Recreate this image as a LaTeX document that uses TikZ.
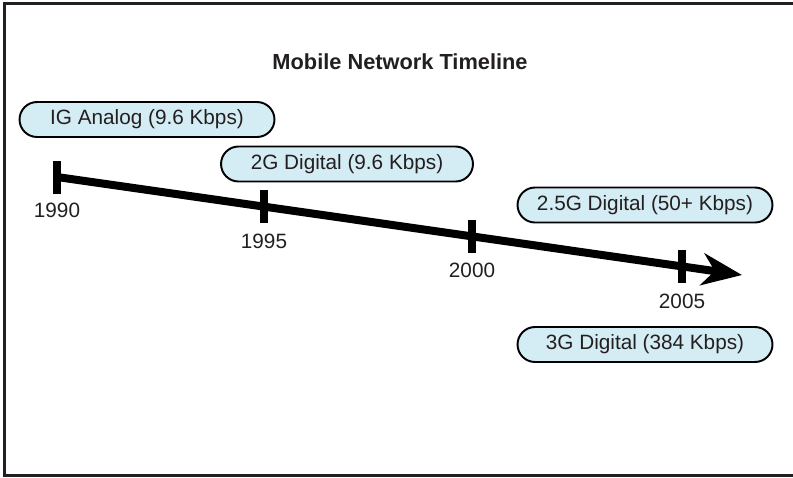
\documentclass[tikz,border=0pt]{standalone}
\usepackage{fontspec}
\setmainfont{Liberation Sans}
\usepackage{tikz}
\usetikzlibrary{arrows.meta,positioning}
\definecolor{pillblue}{RGB}{212,236,243}
\definecolor{inkgray}{RGB}{35,31,32}
\tikzset{pill/.style={draw=black, line width=1.1pt, fill=pillblue,
           rounded corners=0.35cm, minimum width=5.1cm, minimum height=0.7cm,
           inner sep=0pt, text=inkgray, font=\fontsize{11.8pt}{13pt}\selectfont},
         tickmark/.style={fill=black, inner sep=0pt, minimum width=0.16cm,
           minimum height=0.66cm},
         yearlabel/.style={inner sep=0pt, text=inkgray,
           font=\fontsize{11.8pt}{13pt}\selectfont}}

\begin{document}
\begin{tikzpicture}[x=0.02cm, y=-0.02cm]
  \useasboundingbox (0,0) rectangle (793,477);
  % frame, open on the right
  \draw[line width=0.05cm, draw=inkgray] (793,3.5) -- (4.5,3.5) -- (4.5,475.5) -- (793,475.5);

  \node[anchor=base, text=inkgray, font=\fontsize{12.4pt}{14pt}\selectfont\bfseries]
    (title) at (400,69) {Mobile Network Timeline};

  \node[pill] (g1)  at (147,119.5) {IG Analog (9.6 Kbps)};
  \node[pill, minimum width=5.04cm] (g2)  at (347,164) {2G Digital (9.6 Kbps)};
  \node[pill] (g25) at (645,205) {2.5G Digital (50+ Kbps)};
  \node[pill] (g3)  at (645,344.5) {3G Digital (384 Kbps)};

  \coordinate (tip) at (742,275);
  \node[tickmark] (t1990) at (57,177) {};
  \node[tickmark] (t1995) at (264,206.6) {};
  \node[tickmark] (t2000) at (472,236.3) {};
  \node[tickmark] (t2005) at (682,266.4) {};

  \draw[line width=0.16cm, -{Stealth[length=0.8cm, width=0.64cm, inset=0.25cm]}]
    (t1990.center) -- (tip);

  \node[yearlabel, below=0.18cm of t1990] (y1990) {1990};
  \node[yearlabel, below=0.2cm of t1995] (y1995) {1995};
  \node[yearlabel, below=0.2cm of t2000] (y2000) {2000};
  \node[yearlabel, below=0.2cm of t2005] (y2005) {2005};

\end{tikzpicture}
\end{document}
